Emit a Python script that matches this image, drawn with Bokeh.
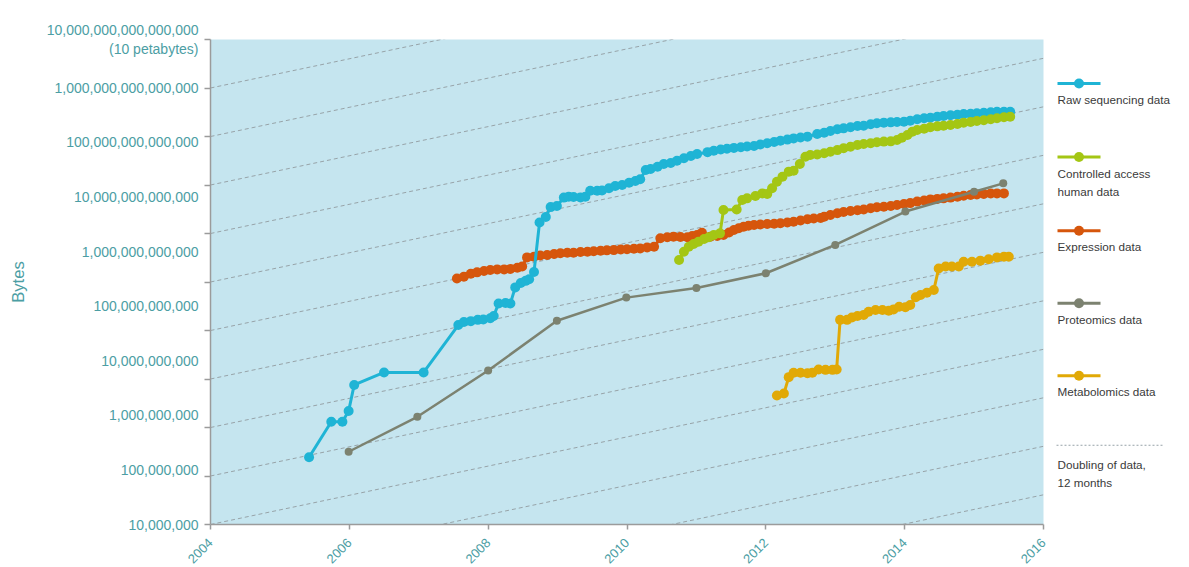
import math
import json
from bokeh.plotting import figure
from bokeh.models import (Range1d, LogScale, LogAxis, FixedTicker, CustomJSTickFormatter)
from bokeh.layouts import row
from bokeh.core.properties import value
from bokeh.embed import file_html
from bokeh.resources import INLINE

# ---------------- data ----------------
raw_year = [2005.42, 2005.74, 2005.90, 2005.99, 2006.07, 2006.50, 2007.07, 2007.57, 2007.65, 2007.75,
            2007.85, 2007.93, 2008.03, 2008.08, 2008.15, 2008.25, 2008.32, 2008.39, 2008.47, 2008.54,
            2008.59, 2008.66, 2008.74, 2008.83, 2008.90, 2008.99, 2009.09, 2009.16, 2009.23, 2009.33,
            2009.40, 2009.47, 2009.57, 2009.64, 2009.74, 2009.83, 2009.93, 2010.03, 2010.12, 2010.19,
            2010.27, 2010.34, 2010.44, 2010.53, 2010.63, 2010.72, 2010.82, 2010.92, 2011.01, 2011.16,
            2011.25, 2011.35, 2011.44, 2011.54, 2011.64, 2011.73, 2011.83, 2011.92, 2012.02, 2012.12,
            2012.21, 2012.31, 2012.40, 2012.50, 2012.60, 2012.74, 2012.84, 2012.93, 2013.03, 2013.12,
            2013.22, 2013.32, 2013.41, 2013.51, 2013.60, 2013.70, 2013.80, 2013.89, 2013.99, 2014.08,
            2014.18, 2014.28, 2014.37, 2014.47, 2014.56, 2014.66, 2014.76, 2014.85, 2014.95, 2015.04,
            2015.14, 2015.24, 2015.33, 2015.43, 2015.52]
raw_bytes = [1.7e8, 7.6e8, 7.6e8, 1.2e9, 3.6e9, 6.1e9, 6.1e9, 4.5e10, 5.1e10, 5.3e10,
             5.6e10, 5.7e10, 6.0e10, 6.6e10, 1.12e11, 1.14e11, 1.12e11, 2.2e11, 2.65e11, 2.9e11,
             3.1e11, 4.2e11, 3.4e12, 4.3e12, 6.5e12, 6.8e12, 9.7e12, 1.01e13, 9.95e12, 9.8e12,
             1.01e13, 1.30e13, 1.30e13, 1.31e13, 1.44e13, 1.58e13, 1.65e13, 1.82e13, 1.95e13, 2.10e13,
             3.1e13, 3.24e13, 3.57e13, 4.0e13, 4.18e13, 4.6e13, 5.1e13, 5.6e13, 6.1e13, 6.6e13,
             7.0e13, 7.4e13, 7.6e13, 7.9e13, 8.1e13, 8.4e13, 8.55e13, 9.1e13, 9.6e13, 1.01e14,
             1.07e14, 1.12e14, 1.18e14, 1.22e14, 1.27e14, 1.42e14, 1.50e14, 1.61e14, 1.73e14, 1.80e14,
             1.88e14, 1.99e14, 2.01e14, 2.14e14, 2.23e14, 2.29e14, 2.32e14, 2.35e14, 2.38e14, 2.49e14,
             2.64e14, 2.75e14, 2.82e14, 2.94e14, 3.03e14, 3.13e14, 3.20e14, 3.30e14, 3.34e14, 3.40e14,
             3.48e14, 3.54e14, 3.63e14, 3.63e14, 3.63e14]

ctrl_year = [2010.75, 2010.82, 2010.89, 2010.96, 2011.03, 2011.11, 2011.18, 2011.25, 2011.34, 2011.39,
             2011.58, 2011.66, 2011.73, 2011.85, 2011.95, 2012.02, 2012.09, 2012.16, 2012.24, 2012.33,
             2012.40, 2012.49, 2012.57, 2012.64, 2012.74, 2012.84, 2012.93, 2013.03, 2013.12, 2013.22,
             2013.32, 2013.41, 2013.51, 2013.60, 2013.70, 2013.80, 2013.89, 2013.96, 2014.04, 2014.11,
             2014.18, 2014.28, 2014.37, 2014.47, 2014.56, 2014.66, 2014.76, 2014.85, 2014.95, 2015.04,
             2015.14, 2015.24, 2015.33, 2015.43, 2015.52]
ctrl_bytes = [7.0e11, 9.9e11, 1.22e12, 1.37e12, 1.51e12, 1.69e12, 1.82e12, 2.0e12, 2.15e12, 5.75e12,
              5.9e12, 8.8e12, 9.4e12, 1.04e13, 1.16e13, 1.13e13, 1.44e13, 1.90e13, 2.34e13, 2.90e13,
              3.02e13, 4.0e13, 5.45e13, 5.85e13, 6.0e13, 6.3e13, 6.7e13, 7.2e13, 7.8e13, 8.3e13,
              8.9e13, 9.3e13, 9.6e13, 1.0e14, 1.03e14, 1.04e14, 1.10e14, 1.21e14, 1.36e14, 1.56e14,
              1.68e14, 1.77e14, 1.88e14, 1.96e14, 2.01e14, 2.07e14, 2.16e14, 2.29e14, 2.35e14, 2.45e14,
              2.53e14, 2.64e14, 2.75e14, 2.87e14, 2.94e14]

expr_year = [2007.55, 2007.65, 2007.75, 2007.84, 2007.94, 2008.03, 2008.13, 2008.23, 2008.32, 2008.42,
             2008.49, 2008.56, 2008.66, 2008.75, 2008.85, 2008.95, 2009.04, 2009.14, 2009.23, 2009.33,
             2009.43, 2009.52, 2009.62, 2009.71, 2009.81, 2009.91, 2010.00, 2010.10, 2010.19, 2010.29,
             2010.39, 2010.48, 2010.58, 2010.67, 2010.77, 2010.87, 2010.94, 2011.01, 2011.08, 2011.20,
             2011.30, 2011.39, 2011.47, 2011.54, 2011.61, 2011.68, 2011.75, 2011.83, 2011.92, 2012.02,
             2012.12, 2012.21, 2012.31, 2012.40, 2012.50, 2012.60, 2012.69, 2012.79, 2012.84, 2012.93,
             2013.03, 2013.12, 2013.22, 2013.32, 2013.41, 2013.51, 2013.60, 2013.70, 2013.80, 2013.89,
             2013.99, 2014.08, 2014.18, 2014.28, 2014.37, 2014.47, 2014.56, 2014.66, 2014.76, 2014.85,
             2014.95, 2015.04, 2015.14, 2015.24, 2015.33, 2015.43]
expr_bytes = [3.2e11, 3.45e11, 3.9e11, 4.15e11, 4.4e11, 4.6e11, 4.7e11, 4.7e11, 4.8e11, 5.05e11,
              5.3e11, 7.8e11, 8.0e11, 8.45e11, 8.6e11, 9.0e11, 9.3e11, 9.5e11, 9.5e11, 9.8e11,
              9.9e11, 1.01e12, 1.03e12, 1.05e12, 1.06e12, 1.09e12, 1.10e12, 1.12e12, 1.14e12, 1.18e12,
              1.22e12, 1.75e12, 1.82e12, 1.87e12, 1.84e12, 1.82e12, 1.92e12, 2.0e12, 2.2e12, 1.87e12,
              1.92e12, 2.0e12, 2.23e12, 2.48e12, 2.66e12, 2.85e12, 2.97e12, 3.06e12, 3.12e12, 3.19e12,
              3.23e12, 3.28e12, 3.40e12, 3.51e12, 3.70e12, 3.89e12, 4.02e12, 4.11e12, 4.34e12, 4.66e12,
              5.0e12, 5.3e12, 5.5e12, 5.7e12, 5.9e12, 6.2e12, 6.45e12, 6.6e12, 6.8e12, 7.1e12,
              7.4e12, 7.7e12, 8.2e12, 8.6e12, 9.0e12, 9.2e12, 9.4e12, 9.7e12, 1.01e13, 1.05e13,
              1.08e13, 1.11e13, 1.13e13, 1.15e13, 1.16e13, 1.16e13]

prot_year = [2005.99, 2006.98, 2008.00, 2008.99, 2009.99, 2011.00, 2012.00, 2013.00, 2014.01, 2015.00, 2015.42]
prot_bytes = [2.15e8, 9.4e8, 6.6e9, 5.4e10, 1.43e11, 2.15e11, 4.0e11, 1.32e12, 5.4e12, 1.24e13, 1.77e13]

meta_year = [2012.16, 2012.26, 2012.33, 2012.40, 2012.50, 2012.60, 2012.67, 2012.76, 2012.86, 2012.96,
             2013.02, 2013.07, 2013.17, 2013.24, 2013.32, 2013.41, 2013.48, 2013.58, 2013.68, 2013.77,
             2013.84, 2013.92, 2014.01, 2014.08, 2014.16, 2014.23, 2014.32, 2014.42, 2014.49, 2014.59,
             2014.68, 2014.78, 2014.85, 2014.97, 2015.09, 2015.21, 2015.33, 2015.43, 2015.50]
meta_bytes = [2.3e9, 2.5e9, 5.0e9, 6.0e9, 6.0e9, 5.9e9, 6.0e9, 6.9e9, 6.8e9, 6.8e9,
              6.9e9, 5.6e10, 5.6e10, 6.2e10, 6.6e10, 6.9e10, 7.9e10, 8.5e10, 8.5e10, 8.2e10,
              8.7e10, 9.7e10, 9.5e10, 1.05e11, 1.45e11, 1.60e11, 1.76e11, 1.97e11, 4.9e11, 5.3e11,
              5.3e11, 5.3e11, 6.5e11, 6.5e11, 6.8e11, 7.2e11, 7.8e11, 8.0e11, 8.0e11]

x_ticks = [2004, 2006, 2008, 2010, 2012, 2014, 2016]
y_label_ticks = [1e7, 1e8, 1e9, 1e10, 1e11, 1e12, 1e13, 1e14, 1e15]
top_label_lines = ["10,000,000,000,000,000", "(10 petabytes)"]
series_names = ["Raw sequencing data", "Controlled access\nhuman data", "Expression data",
                "Proteomics data", "Metabolomics data"]
doubling_name = "Doubling of data,\n12 months"

# ---------------- styling ----------------
FONT = "Liberation Sans"
TEAL = "#4c9ea4"
AXIS_GREY = "#9b9b9b"
BG = "#c5e5ef"
DASH_GREY = "#97a3a8"
C_RAW = "#1fb4d5"
C_CTRL = "#a4c614"
C_EXPR = "#d6560c"
C_PROT = "#7c8270"
C_META = "#e1a906"
LEG_TEXT = "#3a3a3a"

FRAME_W, FRAME_H = 833, 485
TOP_B, LEFT_B = 39, 210
PX_PER_DEC = 54.6          # spacing of the printed labels
y_top = 10 ** (7 + FRAME_H / PX_PER_DEC)

p = figure(frame_width=FRAME_W, frame_height=FRAME_H,
           x_range=Range1d(2004, 2016), y_range=Range1d(1e7, y_top),
           y_axis_type="log", y_axis_location=None,
           output_backend="svg", toolbar_location=None,
           min_border_left=LEFT_B, min_border_right=5, min_border_top=TOP_B, min_border_bottom=30,
           background_fill_color=BG, border_fill_color="white", outline_line_color=None)
p.grid.visible = False
p.extra_y_ranges = {"ticks": Range1d(1e7, 1e17)}
p.extra_y_scales = {"ticks": LogScale()}

# x axis
xa = p.xaxis[0]
xa.ticker = FixedTicker(ticks=x_ticks, minor_ticks=[])
xa.major_label_orientation = math.pi / 4
xa.major_label_text_color = TEAL
xa.major_label_text_font = FONT
xa.major_label_text_font_size = "13px"
xa.axis_line_color = AXIS_GREY
xa.axis_line_width = 1.5
xa.major_tick_line_color = AXIS_GREY
xa.major_tick_line_width = 1.5
xa.major_tick_out = 5
xa.major_tick_in = 0
xa.minor_tick_line_color = None
xa.major_label_standoff = 11

# inner axis: tick marks only (evenly spaced decades)
tick_axis = LogAxis(y_range_name="ticks",
                    ticker=FixedTicker(ticks=[10.0 ** k for k in range(7, 18)], minor_ticks=[]),
                    formatter=CustomJSTickFormatter(code="return ''"),
                    major_tick_out=6, major_tick_in=0, minor_tick_out=0, minor_tick_in=0,
                    major_label_standoff=0, major_label_text_font_size="1px",
                    axis_line_color=AXIS_GREY, axis_line_width=1.5,
                    major_tick_line_color=AXIS_GREY, major_tick_line_width=1.5,
                    minor_tick_line_color=None)
p.add_layout(tick_axis, "left")

# outer axis: printed labels (the top one sits at the frame's upper edge)
top_text = json.dumps("\n".join(top_label_lines))
label_axis = LogAxis(ticker=FixedTicker(ticks=y_label_ticks + [y_top * 0.99999], minor_ticks=[]),
                     formatter=CustomJSTickFormatter(
                         code="if (tick > 5e15) { return " + top_text + "; }\n"
                              r"return Math.round(tick).toString().replace(/\B(?=(\d{3})+(?!\d))/g, ',');"),
                     major_tick_out=0, major_tick_in=0, minor_tick_out=0, minor_tick_in=0,
                     axis_line_color=None, major_tick_line_color=None, minor_tick_line_color=None,
                     major_label_standoff=6,
                     major_label_text_font=FONT, major_label_text_font_size="14px",
                     major_label_text_color=TEAL,
                     axis_label="Bytes", axis_label_text_font=FONT,
                     axis_label_text_font_size="16.5px", axis_label_text_font_style="normal",
                     axis_label_text_color=TEAL, axis_label_standoff=17)
p.add_layout(label_axis, "left")

# doubling guide lines (doubling every 12 months, starting at each tick)
xs, ys = [], []
for k in range(4, 17):
    xs.append([2004, 2016])
    ys.append([10.0 ** k, 10.0 ** k * 2 ** 12])
p.multi_line(xs, ys, y_range_name="ticks", line_color=DASH_GREY, line_width=1, line_dash="4 3")

# series
def series(xv, yv, color, lw=3, size=10):
    p.line(xv, yv, line_color=color, line_width=lw)
    p.scatter(xv, yv, size=size, fill_color=color, line_color=None)

series(expr_year, expr_bytes, C_EXPR)
series(raw_year, raw_bytes, C_RAW)
series(ctrl_year, ctrl_bytes, C_CTRL)
series(prot_year, prot_bytes, C_PROT, lw=2.5, size=8)
series(meta_year, meta_bytes, C_META)

# ---------------- legend panel (frame aligned with the main frame; page pixel coords) ----------------
LEG_W = 132
lg = figure(width=LEG_W, height=560, x_range=Range1d(0, LEG_W),
            y_range=Range1d(TOP_B + FRAME_H, TOP_B),
            x_axis_location=None, y_axis_location=None, toolbar_location=None,
            output_backend="svg", min_border=0, outline_line_color=None,
            background_fill_color="white", border_fill_color="white")
lg.grid.visible = False

leg_colors = [C_RAW, C_CTRL, C_EXPR, C_PROT, C_META]
leg_line_y = [84, 159, 234.3, 308.3, 382.3]
for name, col, ly in zip(series_names, leg_colors, leg_line_y):
    lg.line([9, 52], [ly, ly], line_color=col, line_width=3)
    lg.scatter([30.5], [ly], size=10, fill_color=col, line_color=None)
    for j, part in enumerate(name.split("\n")):
        lg.text([9], [ly + 16.5 + 18.3 * j], text=[part], text_font=value(FONT),
                text_font_size="11.7px", text_color=LEG_TEXT, text_baseline="middle",
                text_align="left")
lg.line([8, 114], [453.3, 453.3], line_color=DASH_GREY, line_width=1, line_dash="2 2")
for j, part in enumerate(doubling_name.split("\n")):
    lg.text([9], [472.7 + 18.3 * j], text=[part], text_font=value(FONT),
            text_font_size="11.7px", text_color=LEG_TEXT, text_baseline="middle", text_align="left")

layout = row(p, lg)
open("out.html", "w").write(file_html(layout, INLINE))
